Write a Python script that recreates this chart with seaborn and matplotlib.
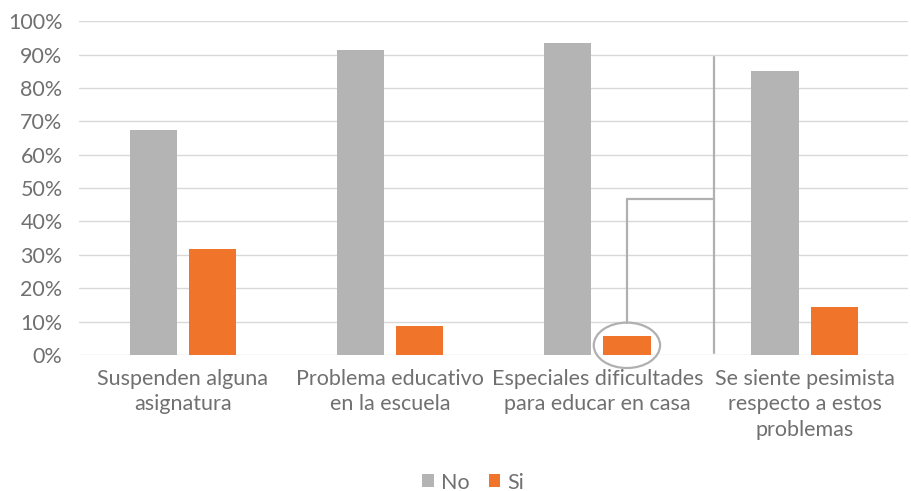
import pandas as pd
import matplotlib.pyplot as plt
import seaborn as sns
from matplotlib.patches import Ellipse
from matplotlib.ticker import PercentFormatter

categories = ["Suspenden alguna\nasignatura",
              "Problema educativo\nen la escuela",
              "Especiales dificultades\npara educar en casa",
              "Se siente pesimista\nrespecto a estos\nproblemas"]
no_values = [67.4, 91.2, 93.4, 85.0]
si_values = [31.7, 8.7, 5.8, 14.3]
series = ["No", "Si"]
colors = ["#b4b4b4", "#f0742a"]

df = pd.DataFrame({
    "cat": categories * 2,
    "serie": ["No"] * 4 + ["Si"] * 4,
    "valor": no_values + si_values,
})

sns.set_style("white")
plt.rcParams['font.family'] = ['Lato', 'DejaVu Sans']
text_color = "#707070"

fig = plt.figure(figsize=(9.11, 4.91), dpi=100)
ax = fig.add_axes([0.087, 0.277, 0.91, 0.68])

bar_width = 0.57
sns.barplot(data=df, x="cat", y="valor", hue="serie", hue_order=series,
            palette=colors, width=bar_width, gap=0.2, saturation=1,
            edgecolor="none", ax=ax, legend=True)

ax.set_ylim(0, 100)
ax.set_xlim(-0.5, 3.5)
ax.set_yticks(range(0, 101, 10))
ax.yaxis.set_major_formatter(PercentFormatter(decimals=0))
ax.grid(axis="y", color="#d9d9d9", linewidth=1)
ax.set_axisbelow(True)
for s in ax.spines.values():
    s.set_visible(False)
ax.set_xlabel("")
ax.set_ylabel("")
ax.tick_params(axis="both", length=0, colors=text_color, labelsize=15.5)
ax.tick_params(axis="y", pad=12)
ax.tick_params(axis="x", pad=10)
for lbl in ax.get_xticklabels():
    lbl.set_linespacing(1.35)

# callout shapes around the small orange bar of "Especiales dificultades"
callout_x = 2 + bar_width / 4
line_kw = dict(color="#b0b0b0", linewidth=1.6, clip_on=False)
ax.add_patch(Ellipse((callout_x, 2.9), 0.32, 13.6, fill=False,
                     edgecolor="#b0b0b0", linewidth=1.6, clip_on=False, zorder=5))
ax.plot([callout_x, callout_x], [9.7, 46.8], **line_kw)
ax.plot([callout_x, 2.565], [46.8, 46.8], **line_kw)
ax.plot([2.565, 2.565], [0.5, 89.4], **line_kw)

handles, labels = ax.get_legend_handles_labels()
ax.legend(handles, labels, loc="lower center", bbox_to_anchor=(0.475, -0.47),
          ncol=2, frameon=False, fontsize=15.5, handlelength=0.55, handleheight=0.55,
          handletextpad=0.3, columnspacing=0.9, labelcolor=text_color)

plt.savefig("out.png", dpi=100)
